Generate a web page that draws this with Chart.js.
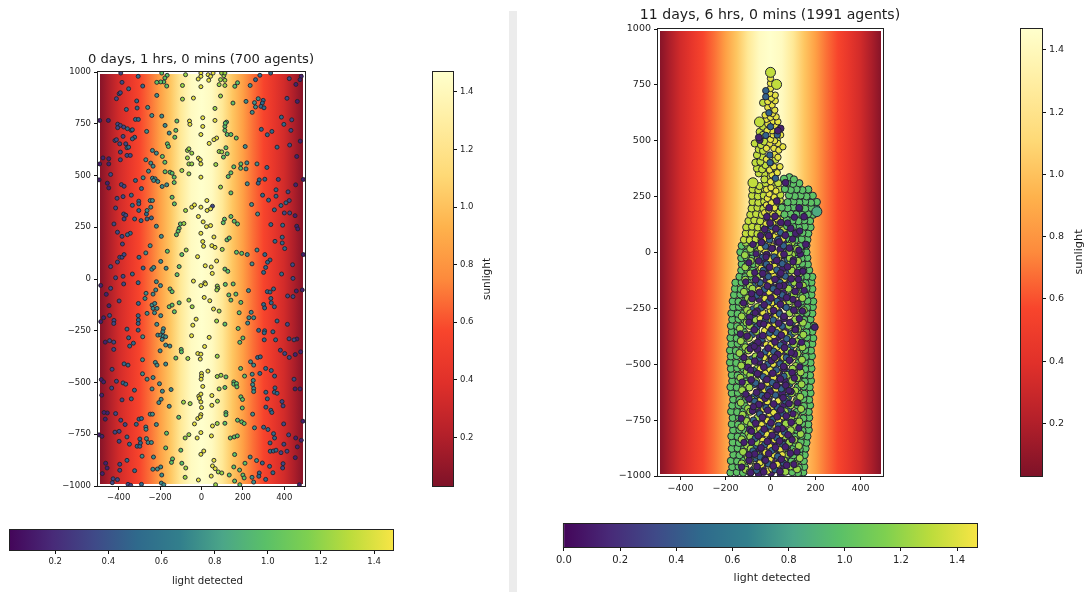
<!DOCTYPE html>
<html>
<head>
<meta charset="utf-8">
<style>
  html, body { margin: 0; padding: 0; background: #fff; overflow: hidden; }
  #page { position: relative; width: 1089px; height: 592px; }
  canvas { position: absolute; }
  #divider { position: absolute; left: 509px; top: 11px; width: 8px; height: 581px; background: #ececec; }
</style>
<script src="https://cdn.jsdelivr.net/npm/chart.js@4/dist/chart.umd.js"></script>
</head>
<body>
<div id="page">
  <div id="divider"></div>
  <canvas id="leftMain" width="290" height="470" style="left:40px;top:40px"></canvas>
  <canvas id="leftSun" width="70" height="440" style="left:425px;top:60px"></canvas>
  <canvas id="leftLightBar" width="400" height="72" style="left:0;top:520px"></canvas>
  <canvas id="rightMain" width="310" height="500" style="left:600px;top:0"></canvas>
  <canvas id="rightSun" width="79" height="475" style="left:1010px;top:15px"></canvas>
  <canvas id="rightLightBar" width="432" height="77" style="left:553px;top:515px"></canvas>
</div>
<script>
// tick labels
const xTicks = [-400, -200, 0, 200, 400];
const yTicks = [-1000, -750, -500, -250, 0, 250, 500, 750, 1000];
const sunTicks = [0.2, 0.4, 0.6, 0.8, 1.0, 1.2, 1.4];
const lightTicksLeft = [0.2, 0.4, 0.6, 0.8, 1.0, 1.2, 1.4];
const lightTicksRight = [0.0, 0.2, 0.4, 0.6, 0.8, 1.0, 1.2, 1.4];

// sunlight across the dish
const sunX = [-500, -450, -400, -350, -300, -250, -200, -150, -100, -50, 0, 50, 100, 150, 200, 250, 300, 350, 400, 450, 500];
const sunVal = [0.03, 0.18, 0.33, 0.44, 0.56, 0.68, 0.85, 1.02, 1.25, 1.42, 1.47, 1.42, 1.25, 1.02, 0.85, 0.68, 0.56, 0.44, 0.33, 0.18, 0.03];

// colormaps
const sunStops = ["#7e1228", "#b4202a", "#e0302a", "#f8452c", "#fd8a3c", "#feb24c", "#fed976", "#ffeda0", "#ffffcc"];
const lightStops = ["#44065a", "#482a78", "#3f4a88", "#2f6a8c", "#327f8c", "#4ba688", "#5ac068", "#7ed050", "#bcdc3c", "#f7e545"];

// light detected per band of agents
const bandLight = { purple: 0.12, navy: 0.32, steel: 0.45, blue: 0.5, teal: 0.72, green: 1.0, lime: 1.22, pale: 1.32, yellow: 1.42 };

// left panel, agents at 1 hr
const leftPurple = [[-492,766],[-450,766],[-476,585],[-448,581],[-492,556],[-448,556],[-495,479],[-455,463],[-448,440],[463,858],[477,666],[460,592],[455,455],[492,481],[452,306],[460,255],[465,242],[492,118],[482,979],[476,963],[456,940],[-487,-31],[-460,-74],[-447,-129],[-473,-187],[-487,-206],[-465,-305],[-484,-486],[-473,-497],[-482,-561],[-455,-647],[-471,-645],[-465,-677],[-495,-753],[-481,-760],[-463,-890],[-456,-913],[-479,-940],[458,-58],[487,-53],[461,-290],[453,-365],[479,-352],[452,-531],[476,-531],[490,-687],[455,-768],[482,-779],[463,-811],[453,-863],[473,-994]];
const leftNavy = [[-390,995],[-384,950],[-411,871],[-398,895],[-392,900],[-405,748],[-392,742],[-405,731],[-376,734],[-379,689],[-418,669],[-411,673],[-395,653],[-366,653],[-392,613],[-360,597],[-344,597],[-392,576],[-439,505],[-387,456],[-374,448],[-408,390],[-379,398],[-415,343],[-376,314],[-366,308],[-374,290],[-423,266],[-406,226],[-384,206],[-382,169],[-395,105],[-384,105],[-374,118],[-406,82],[-439,60],[-415,6],[-379,13],[413,873],[436,769],[432,718],[426,647],[371,481],[418,421],[424,379],[400,319],[426,319],[440,69],[442,3],[424,968],[53,352],[-439,-45],[-398,-106],[-376,-24],[-444,-176],[-423,-200],[-424,-215],[-444,-298],[-424,-305],[-424,-340],[-432,-436],[-411,-494],[-434,-527],[-384,-584],[-415,-650],[-390,-682],[-369,-703],[-418,-740],[-398,-736],[-398,-784],[-395,-895],[-395,-924],[-427,-965],[-406,-969],[-431,-984],[-355,-992],[-342,-997],[416,-82],[442,-85],[415,-219],[423,-289],[447,-294],[381,-344],[402,-360],[424,-379],[447,-484],[389,-592],[394,-613],[397,-700],[421,-753],[398,-798],[384,-839],[413,-832],[394,-892],[392,-913]];
const leftBlue = [[-306,979],[-284,932],[-352,919],[-313,860],[-363,819],[-311,826],[-319,771],[-305,771],[-358,726],[-339,718],[-334,721],[-323,685],[-334,677],[-360,634],[-352,637],[-319,476],[-290,437],[-339,405],[-303,376],[-303,363],[-334,356],[-303,331],[-323,290],[-292,282],[-344,221],[-358,214],[-302,105],[-334,24],[-282,53],[-266,314],[-263,290],[-242,295],[279,479],[274,463],[306,482],[316,539],[295,405],[324,381],[360,400],[360,431],[352,334],[384,355],[408,368],[335,263],[392,260],[355,182],[390,202],[390,174],[402,147],[306,118],[331,92],[319,81],[310,56],[300,32],[387,24],[289,723],[318,697],[340,713],[365,637],[398,747],[282,984],[261,963],[386,782],[334,995],[298,863],[294,850],[287,834],[302,827],[-306,-18],[-305,-118],[-306,-177],[-305,-198],[-306,-215],[-360,-242],[-306,-247],[-352,-284],[-329,-310],[-347,-324],[-374,-410],[-355,-416],[-379,-502],[-366,-508],[-324,-537],[-339,-579],[-360,-763],[-348,-798],[-315,-702],[-302,-677],[-290,-674],[-360,-876],[-323,-926],[-298,-773],[-311,-808],[-298,-808],[-295,-792],[-290,-992],[318,-61],[331,-63],[348,-48],[335,-94],[337,-115],[300,-123],[352,-134],[305,-140],[365,-203],[276,-248],[305,-250],[303,-260],[345,-255],[303,-294],[358,-294],[271,-379],[284,-376],[310,-432],[282,-456],[337,-442],[353,-469],[311,-547],[355,-526],[352,-547],[318,-579],[365,-552],[311,-619],[335,-634],[340,-645],[300,-716],[321,-727],[348,-747],[353,-768],[331,-792],[332,-832],[347,-831],[360,-827],[294,-889],[329,-905],[279,-937],[277,-953],[345,-936],[310,-968]];
const leftTeal = [[-260,829],[-240,790],[-265,713],[-282,489],[-237,487],[-224,484],[-231,476],[-211,471],[-190,447],[-168,455],[-269,576],[-237,621],[-218,608],[-245,560],[-234,545],[-256,521],[-248,379],[-237,379],[-263,331],[-218,255],[-194,206],[-248,161],[-269,126],[-197,85],[-240,47],[-231,56],[-171,52],[-192,787],[-216,887],[-176,742],[-156,705],[-245,347],[215,858],[256,852],[261,831],[274,871],[245,805],[211,640],[215,532],[219,561],[268,556],[221,460],[242,360],[271,314],[268,140],[221,118],[244,73],[235,935],[-284,-279],[-285,-390],[-285,-458],[-263,-484],[-239,-531],[-234,-476],[-263,-166],[-239,-126],[-226,-118],[-234,-142],[-215,-142],[-227,-163],[-197,-177],[-216,-219],[-184,-240],[-187,-255],[-211,-271],[-197,-271],[-185,-276],[-173,-279],[-190,-292],[-200,-347],[-173,-319],[-153,-324],[-223,-403],[-215,-416],[-173,-411],[-203,-506],[-189,-542],[-147,-534],[-195,-581],[-206,-597],[-156,-615],[-248,-653],[-237,-653],[-269,-715],[-268,-726],[-218,-703],[-266,-771],[-258,-790],[-242,-790],[-287,-856],[-232,-860],[-235,-919],[-213,-918],[-197,-908],[-192,-947],[-194,-986],[-182,-994],[-218,-13],[-198,-32],[-221,-53],[-234,-73],[-273,-94],[-268,-69],[227,-56],[240,-161],[229,-187],[252,-187],[223,-213],[237,-400],[252,-416],[245,-460],[250,-490],[247,-510],[252,-529],[252,-544],[247,-653],[256,-719],[235,-860],[266,-877],[244,-958],[252,-981]];
const leftGreen = [[-165,134],[-177,564],[-189,592],[-165,653],[-160,640],[-124,718],[-129,685],[-119,763],[-152,516],[-176,518],[-142,511],[-132,492],[-132,466],[-142,395],[-131,363],[-102,266],[-108,245],[-113,231],[-121,214],[-95,118],[-108,60],[-118,21],[-166,984],[-177,971],[-182,952],[-197,952],[-216,950],[-192,995],[-168,932],[152,850],[113,737],[113,718],[124,698],[142,698],[168,681],[118,634],[124,605],[106,589],[156,542],[190,556],[189,535],[142,513],[129,495],[142,416],[142,302],[158,279],[174,266],[111,289],[105,272],[123,189],[134,198],[169,129],[194,124],[113,48],[127,37],[174,948],[161,931],[121,758],[115,753],[-152,-48],[-142,-61],[-156,-134],[-142,-126],[-131,-158],[-108,-115],[-124,-382],[-98,-340],[-97,-352],[-110,-668],[-169,-745],[-173,-816],[-100,-827],[-140,-869],[-145,-886],[-95,-890],[115,-26],[153,-24],[132,-77],[166,-73],[142,-102],[190,-113],[182,-163],[113,-218],[177,-239],[200,-285],[185,-306],[118,-473],[156,-497],[156,-508],[169,-505],[171,-521],[189,-432],[208,-469],[113,-524],[190,-569],[198,-582],[197,-623],[118,-645],[118,-656],[174,-682],[194,-690],[206,-698],[113,-697],[139,-768],[158,-763],[173,-758],[160,-848],[210,-890],[156,-908],[184,-923],[200,-947],[206,-961],[134,-947],[160,-976],[185,-994]];
const leftLime = [[-85,268],[-74,140],[-95,524],[-61,508],[-68,621],[-61,629],[-68,585],[-47,608],[-61,556],[-47,556],[-77,987],[-92,935],[-92,869],[-77,331],[65,824],[92,884],[113,935],[85,939],[92,963],[113,960],[108,982],[97,995],[113,995],[85,616],[98,614],[69,553],[92,444],[100,143],[-61,-102],[-45,-134],[-66,-384],[-61,-752],[-79,-768],[-87,-595],[-55,-602],[-76,-913],[-79,-958],[76,-34],[79,-45],[74,-53],[76,-373],[85,-155],[73,-203],[76,-471],[94,-465],[85,-531],[77,-590],[76,-698],[68,-994],[81,-932],[98,-937]];
const leftYellow = [[-3,995],[-3,979],[-16,966],[32,987],[44,979],[35,960],[56,995],[-3,929],[-39,874],[6,779],[65,766],[-58,763],[-56,747],[6,737],[-3,698],[73,681],[60,673],[37,655],[-15,584],[-6,576],[-3,556],[-3,492],[26,379],[-3,347],[27,331],[44,339],[-47,347],[-34,358],[-15,302],[8,276],[44,258],[24,253],[-3,221],[60,203],[6,181],[10,158],[50,161],[65,153],[-19,108],[73,87],[18,64],[47,58],[52,27],[-39,-10],[-3,-32],[16,-18],[19,-24],[13,-89],[40,-105],[58,-145],[-26,-194],[-42,-223],[-48,-274],[37,-282],[15,-326],[-18,-360],[-3,-363],[-6,-387],[31,-445],[0,-456],[0,-469],[-2,-484],[6,-519],[-13,-566],[-3,-556],[-10,-577],[-3,-594],[0,-621],[50,-563],[50,-610],[-3,-655],[-18,-674],[-6,-666],[-34,-700],[53,-710],[-3,-742],[48,-758],[-21,-768],[-3,-847],[11,-831],[60,-876],[53,-903],[66,-916],[47,-952],[-15,-971]];

// right panel, agents at 11 days
const rightBaseNavy = [[-52,-990],[2,-986],[46,-992],[-36,-962],[24,-958],[60,-964],[-48,-936],[6,-932],[40,-938],[-28,-908],[18,-904],[58,-910],[-50,-880],[-4,-876],[44,-882],[-32,-852],[14,-848],[56,-854],[-46,-824],[0,-820],[36,-826],[-24,-796],[26,-792],[62,-798],[-54,-768],[-6,-764],[40,-770],[-30,-740],[12,-736],[54,-742],[-48,-712],[2,-708],[32,-714],[-22,-684],[24,-680],[60,-686],[-56,-656],[-8,-652],[38,-658],[-34,-628],[16,-624],[52,-630],[-46,-600],[0,-596],[34,-602],[-20,-572],[28,-568],[64,-574],[-54,-544],[-6,-540],[40,-546],[-36,-516],[12,-512],[60,-518],[-50,-488],[-2,-484],[36,-490],[-22,-460],[24,-456],[66,-462],[-58,-432],[-8,-428],[44,-434],[-36,-404],[14,-400],[58,-406],[-48,-376],[2,-372],[34,-378],[-20,-348],[26,-344],[66,-350],[-54,-320],[-6,-316],[42,-322],[-32,-292],[14,-288],[60,-294],[-46,-264],[0,-260],[36,-266],[-24,-236],[24,-232],[64,-238],[-50,-208],[-8,-204],[44,-210],[-30,-180],[12,-176],[58,-182],[-44,-152],[2,-148],[34,-154],[-18,-124],[26,-120],[62,-126],[-40,-96],[-2,-92],[42,-98],[-24,-68],[16,-64],[56,-70],[-34,-40],[4,-36],[38,-42],[-16,-12],[26,-8],[60,-14],[-30,16],[8,20],[44,14],[-14,44],[30,48],[62,42],[-6,70],[40,74],[12,98],[58,96]];
const rightBaseBlue = [[-75,-972],[74,-976],[-70,-920],[76,-918],[-72,-866],[72,-868],[-76,-812],[78,-810],[-70,-756],[76,-758],[-74,-702],[80,-700],[-72,-646],[78,-648],[-76,-590],[84,-588],[-78,-534],[86,-536],[-84,-478],[88,-476],[-86,-422],[90,-424],[-82,-366],[94,-364],[-80,-310],[96,-312],[-76,-254],[94,-256],[-72,-198],[90,-196],[-66,-142],[92,-144],[-58,-86],[84,-84],[-54,-30],[78,-32],[-52,22],[74,24]];
const rightBaseLime = [[-12,105],[14,108],[38,102],[60,106],[-6,130],[20,134],[44,128],[-14,156],[12,160],[36,154],[58,158],[-10,182],[16,186],[40,180],[-2,208],[24,212],[48,206],[-8,234],[18,238],[42,232],[-4,260],[22,264],[44,258],[-6,286],[20,290],[40,284],[-12,312],[12,316],[34,310],[-10,340],[14,344],[-28,350],[26,372],[-42,392],[-52,415],[22,415],[-48,450],[-40,510],[28,505]];
const rightGreen = [[-178,-985],[-150,-983],[-122,-986],[146,-984],[122,-987],[96,-983],[-170,-960],[-142,-958],[-112,-961],[150,-959],[126,-962],[100,-958],[-176,-932],[-148,-934],[-120,-931],[148,-933],[120,-930],[94,-934],[-165,-905],[-138,-907],[-108,-904],[152,-906],[128,-903],[102,-907],[-172,-878],[-146,-876],[-118,-879],[156,-877],[130,-880],[104,-876],[-168,-850],[-140,-852],[-110,-849],[160,-851],[134,-848],[108,-852],[-174,-822],[-146,-824],[-120,-821],[164,-823],[138,-820],[112,-824],[-166,-795],[-138,-793],[-112,-796],[170,-794],[142,-797],[116,-793],[-172,-768],[-144,-770],[-116,-767],[168,-769],[140,-766],[114,-770],[-168,-740],[-140,-738],[-110,-741],[172,-739],[146,-742],[118,-738],[-175,-712],[-148,-714],[-120,-711],[170,-713],[144,-710],[116,-714],[-170,-685],[-142,-683],[-114,-686],[176,-684],[148,-687],[120,-683],[-166,-658],[-138,-660],[-110,-657],[172,-659],[146,-656],[118,-660],[-172,-630],[-145,-628],[-116,-631],[178,-629],[150,-632],[122,-628],[-178,-602],[-150,-604],[-122,-601],[174,-603],[148,-600],[120,-604],[-170,-575],[-142,-573],[-114,-576],[180,-574],[152,-577],[124,-573],[-172,-548],[-146,-550],[-118,-547],[176,-549],[150,-546],[124,-550],[-176,-520],[-148,-518],[-120,-521],[182,-519],[154,-522],[126,-518],[-180,-492],[-152,-494],[-124,-491],[178,-493],[152,-490],[124,-494],[-176,-465],[-150,-463],[-122,-466],[184,-464],[156,-467],[128,-463],[-180,-438],[-154,-440],[-126,-437],[180,-439],[154,-436],[128,-440],[-174,-410],[-146,-408],[-118,-411],[186,-409],[158,-412],[130,-408],[-178,-382],[-150,-384],[-124,-381],[190,-383],[162,-380],[134,-384],[-172,-355],[-146,-353],[-118,-356],[186,-354],[160,-357],[132,-353],[-176,-328],[-148,-330],[-120,-327],[192,-329],[164,-326],[136,-330],[-170,-300],[-142,-298],[-116,-301],[178,-299],[150,-302],[122,-298],[-174,-272],[-146,-274],[-118,-271],[186,-273],[160,-270],[134,-274],[-166,-245],[-140,-243],[-112,-246],[188,-244],[162,-247],[136,-243],[-168,-218],[-142,-220],[-114,-217],[190,-219],[164,-216],[136,-220],[-162,-190],[-134,-188],[-108,-191],[182,-189],[156,-192],[130,-188],[-158,-162],[-132,-164],[-104,-161],[186,-163],[160,-160],[132,-164],[-156,-135],[-128,-133],[-100,-136],[182,-134],[156,-137],[130,-133],[-138,-108],[-112,-110],[-86,-107],[186,-109],[160,-106],[134,-110],[-130,-80],[-104,-78],[-78,-81],[172,-79],[146,-82],[120,-78],[-128,-52],[-102,-54],[-76,-51],[166,-53],[140,-50],[114,-54],[-130,-25],[-106,-23],[-80,-26],[164,-24],[138,-27],[112,-23],[-134,2],[-108,0],[-82,3],[160,1],[134,4],[108,0],[-128,30],[-102,32],[-76,29],[160,31],[134,28],[106,32],[164,57],[138,60],[110,56],[84,59],[168,85],[142,88],[116,84],[90,87],[178,113],[152,116],[126,112],[100,115],[74,118],[176,141],[150,144],[124,140],[98,143],[72,146],[190,169],[166,172],[140,168],[114,171],[88,174],[62,170],[204,197],[180,200],[154,196],[128,199],[102,202],[76,198],[50,201],[206,226],[180,223],[154,227],[128,224],[102,228],[76,225],[188,254],[160,251],[134,255],[108,252],[82,256],[168,282],[142,279],[116,283],[90,280],[64,284],[128,310],[100,307],[74,311],[84,337],[104,327],[60,330]];
const rightNavy = [[-88,-985],[-30,-982],[42,-980],[-60,-958],[12,-955],[72,-952],[-95,-930],[-25,-928],[48,-925],[-70,-902],[-8,-900],[88,-898],[-42,-874],[22,-872],[66,-870],[-84,-848],[-14,-846],[40,-844],[-55,-820],[8,-818],[78,-816],[-92,-792],[-28,-790],[52,-788],[-66,-764],[2,-762],[92,-760],[-36,-738],[30,-735],[70,-732],[-80,-708],[-12,-706],[46,-704],[-52,-680],[14,-678],[82,-676],[-96,-654],[-24,-652],[56,-650],[-62,-626],[-2,-624],[90,-622],[-40,-598],[26,-596],[68,-594],[-86,-570],[-16,-568],[44,-566],[-58,-542],[10,-540],[96,-538],[-100,-514],[-30,-512],[58,-510],[-70,-486],[4,-484],[84,-482],[-44,-458],[32,-456],[106,-454],[-90,-430],[-10,-428],[62,-426],[-56,-402],[20,-400],[98,-398],[-104,-374],[-34,-372],[48,-370],[-72,-346],[6,-344],[112,-342],[-46,-318],[36,-316],[86,-314],[197,-334],[-92,-290],[-18,-288],[60,-286],[-60,-262],[14,-260],[104,-258],[-28,-234],[44,-232],[122,-230],[-82,-206],[2,-204],[72,-202],[-48,-178],[30,-176],[110,-174],[-14,-150],[58,-148],[128,-146],[-66,-122],[20,-120],[92,-118],[-34,-94],[46,-92],[120,-90],[-4,-66],[76,-64],[-52,-38],[28,-36],[102,-34],[-18,-10],[60,-8],[132,-6],[6,18],[84,20],[157,36],[-40,45],[38,47],[112,86],[-8,75],[66,77],[-26,104],[24,106],[90,108],[-2,132],[46,134],[149,160],[-16,160],[20,162],[127,200],[-6,200],[28,230],[67,312],[45,555],[33,545],[-48,503],[-52,515]];
const rightLimeOuter = [[-110,-972],[118,-970],[-128,-944],[108,-946],[-100,-918],[130,-920],[-122,-892],[112,-890],[-104,-864],[126,-866],[-128,-836],[106,-838],[-98,-810],[134,-812],[-130,-782],[110,-780],[-106,-754],[128,-756],[-124,-726],[108,-728],[-100,-698],[136,-700],[-132,-672],[114,-670],[-104,-644],[132,-646],[-126,-616],[110,-618],[-108,-588],[138,-590],[-134,-560],[118,-562],[-106,-534],[134,-536],[-130,-506],[112,-508],[-110,-478],[140,-480],[-138,-450],[120,-452],[-112,-424],[142,-424],[-132,-396],[116,-398],[-108,-368],[146,-368],[-136,-340],[122,-342],[-106,-314],[144,-314],[-128,-286],[118,-288],[-104,-258],[148,-258],[-124,-232],[120,-232],[-100,-204],[142,-204],[-118,-176],[116,-176],[-92,-150],[144,-148],[-112,-122],[110,-122],[-90,-94],[128,-94],[-112,-66],[100,-66],[-88,-38],[122,-38],[-114,-12],[96,-10],[-90,16],[118,16],[-110,44],[94,44]];
const rightLime = [[-92,-983],[-66,-958],[66,-981],[88,-957],[-90,-932],[-62,-905],[60,-930],[78,-904],[-88,-878],[-60,-850],[62,-876],[84,-850],[-90,-824],[-64,-796],[66,-822],[90,-795],[-86,-768],[-58,-740],[68,-766],[92,-740],[-90,-712],[-62,-686],[64,-711],[90,-684],[-84,-658],[-56,-630],[68,-658],[94,-630],[-94,-604],[-64,-576],[72,-602],[96,-574],[-90,-548],[-60,-520],[74,-548],[98,-520],[-96,-492],[-66,-465],[72,-492],[100,-465],[-98,-438],[-68,-410],[76,-438],[104,-410],[-96,-382],[-64,-354],[78,-382],[108,-354],[-92,-328],[-66,-300],[82,-328],[110,-300],[-90,-272],[-58,-244],[84,-272],[110,-244],[-86,-218],[-56,-190],[84,-218],[104,-190],[-80,-162],[-52,-134],[80,-162],[106,-134],[-60,-108],[-48,-80],[82,-108],[94,-80],[-52,-52],[-56,-25],[88,-52],[86,-25],[-58,2],[-50,30],[82,2],[80,30]];
const rightTowerLime = [[-118,57],[-92,55],[-66,59],[-40,56],[-110,85],[-84,87],[-58,84],[-32,88],[-108,113],[-82,116],[-56,112],[-30,115],[-98,141],[-72,144],[-46,140],[-90,169],[-64,172],[-38,168],[-84,197],[-58,200],[-32,196],[-80,226],[-54,223],[-28,228],[-82,254],[-56,251],[-30,255],[-80,282],[-54,279],[-26,284],[-49,297],[-78,312],[-22,310],[-52,354],[-27,327],[-60,376],[-37,372],[-22,391],[-67,402],[-45,406],[-37,429],[-60,436],[-52,461],[-33,455],[-70,488],[-42,481],[-27,496],[-48,540],[-33,526],[-49,584],[-33,563],[-33,670]];
const rightBlue = [[-62,-975],[20,-972],[-10,-945],[58,-942],[-46,-915],[32,-912],[-78,-888],[6,-886],[-26,-860],[54,-858],[-68,-832],[28,-830],[-40,-806],[62,-804],[-6,-776],[36,-774],[-76,-750],[10,-748],[-48,-722],[54,-720],[-20,-694],[30,-692],[-70,-666],[66,-664],[-38,-640],[22,-638],[-8,-612],[48,-610],[-66,-584],[8,-582],[-32,-556],[60,-554],[-76,-528],[26,-526],[-12,-500],[42,-498],[-50,-472],[70,-470],[-24,-444],[14,-442],[-78,-416],[44,-414],[-38,-388],[72,-386],[-4,-360],[26,-358],[-60,-332],[52,-330],[-24,-304],[12,-302],[-76,-276],[40,-274],[-42,-248],[70,-246],[-8,-220],[30,-218],[-62,-192],[52,-190],[-26,-164],[12,-162],[-46,-136],[42,-134],[-10,-108],[66,-106],[-32,-80],[28,-78],[-18,-52],[52,-50],[-36,-22],[16,-20],[-22,28],[58,30],[-4,56],[34,58],[-14,88],[44,90],[4,116],[-2,402],[22,332],[-3,436],[-21,524],[30,526],[0,563],[-7,625],[-21,724],[-21,697]];
const rightNavyTop = [[-128,-960],[104,-948],[-96,-905],[118,-892],[-118,-850],[96,-838],[-84,-800],[126,-786],[-130,-742],[100,-722],[-76,-690],[120,-672],[-110,-634],[82,-618],[-126,-580],[106,-562],[-88,-526],[130,-512],[-118,-470],[92,-448],[-72,-420],[138,-402],[-134,-364],[110,-346],[-96,-312],[128,-296],[-68,-270],[142,-262],[-120,-226],[100,-210],[-84,-184],[150,-170],[-110,-132],[124,-120],[-70,-90],[144,-84],[-96,-46],[100,-42],[-64,-6],[126,10],[-78,36],[98,60],[130,96],[76,132],[106,158],[-44,76],[-20,-20],[40,-150],[-30,-320],[18,-470],[-14,-640],[32,-790],[-22,-930]];
const rightYellow = [[-12,-978],[6,-968],[-40,-950],[30,-948],[-2,-925],[14,-905],[-22,-895],[44,-880],[-4,-868],[-34,-840],[18,-838],[2,-806],[-18,-812],[24,-780],[-40,-770],[-14,-752],[36,-752],[-4,-722],[14,-716],[-30,-700],[4,-690],[34,-664],[-14,-668],[-6,-640],[10,-632],[-26,-614],[24,-612],[-4,-596],[0,-574],[-12,-585],[14,-560],[-22,-540],[32,-534],[-2,-524],[-10,-490],[12,-500],[24,-476],[-28,-470],[-4,-450],[8,-468],[44,-440],[-18,-412],[2,-412],[28,-424],[-4,-380],[14,-372],[-26,-350],[34,-345],[-10,-330],[20,-320],[-2,-298],[24,-285],[-34,-268],[0,-260],[-10,-240],[26,-246],[6,-225],[-24,-206],[18,-198],[-6,-178],[8,-160],[-30,-148],[34,-160],[-2,-130],[14,-104],[-22,-100],[6,-82],[-8,-50],[18,-62],[36,-24],[-4,-28],[-24,6],[18,0],[4,30],[-8,48],[22,74],[-20,62],[-2,95],[32,92],[10,130],[-20,128],[30,150],[-4,150],[10,172],[-26,178],[-8,190],[18,200],[-18,212],[4,222],[-14,242],[16,248],[-6,262],[24,275],[-18,282],[2,290],[0,317],[7,347],[-4,369],[15,384],[30,357],[42,384],[0,402],[18,439],[33,426],[-18,417],[-3,485],[15,466],[-18,466],[37,458],[55,473],[33,488],[18,500],[0,506],[12,526],[45,526],[7,545],[-15,545],[22,566],[7,585],[33,585],[-12,575],[-18,596],[0,605],[25,607],[9,622],[-24,615],[19,637],[-12,649],[7,660],[-12,675],[21,679],[4,690],[21,704],[-3,712],[0,734],[0,757],[0,779],[-46,-940],[52,-905],[-38,-860],[48,-815],[-48,-790],[56,-735],[-44,-660],[60,-600],[-46,-520],[58,-470],[-52,-400],[62,-360],[-46,-296],[56,-230],[-52,-166],[60,-120],[-42,-70],[46,-10],[-44,20],[54,60]];
const rightBig = [[0,806],[27,752],[-49,584],[-78,312]];
const rightBigTeal = [[206,183]];

const minusLabel = v => String(v).replace("-", "\u2212");

// hex colormap lookup for a value in vmin..vmax
function mapColor(stops, v, vmin, vmax) {
  const t = Math.min(1, Math.max(0, (v - vmin) / (vmax - vmin))) * (stops.length - 1);
  const i = Math.min(stops.length - 2, Math.floor(t));
  const f = t - i;
  const c = k => parseInt(stops[k].slice(1), 16);
  const a = c(i), b = c(i + 1);
  const ch = s => Math.round(((a >> s) & 255) * (1 - f) + ((b >> s) & 255) * f);
  return `rgb(${ch(16)},${ch(8)},${ch(0)})`;
}

// sunlight background under the agents, keeps a white gap to the axes frame
const sunBackground = {
  id: "sunBackground",
  beforeDatasetsDraw(chart) {
    const { ctx, chartArea: a, scales: { x } } = chart;
    const x0 = x.getPixelForValue(-500), x1 = x.getPixelForValue(500);
    const grad = ctx.createLinearGradient(x0, 0, x1, 0);
    sunX.forEach((sx, i) => grad.addColorStop((sx + 500) / 1000, mapColor(sunStops, sunVal[i], 0.03, 1.47)));
    ctx.save();
    ctx.fillStyle = grad;
    ctx.fillRect(a.left + 2, a.top + 2, a.width - 4, a.height - 4);
    ctx.restore();
  }
};

const frame = {
  id: "frame",
  afterDraw(chart) {
    const { ctx, chartArea: a } = chart;
    ctx.save();
    ctx.strokeStyle = "#222";
    ctx.lineWidth = 1;
    ctx.strokeRect(a.left - 0.5, a.top - 0.5, a.width + 1, a.height + 1);
    ctx.restore();
  }
};

// titles and colorbar labels sit off centre in the original, so they get placed by hand
const placedLabel = {
  id: "placedLabel",
  afterDraw(chart, args, opts) {
    const { ctx } = chart;
    ctx.save();
    ctx.translate(opts.x, opts.y);
    if (opts.vertical) ctx.rotate(-Math.PI / 2);
    ctx.font = `${opts.size}px "DejaVu Sans"`;
    ctx.fillStyle = "#1c1c1c";
    ctx.textAlign = "center";
    ctx.textBaseline = "middle";
    ctx.fillText(opts.text, 0, 0);
    ctx.restore();
  }
};

function agents(points, light, radius, border) {
  return {
    data: points.map(p => ({ x: p[0], y: p[1] })),
    pointRadius: radius,
    pointBorderWidth: border,
    pointBorderColor: "#23232f",
    pointBackgroundColor: mapColor(lightStops, light, 0, 1.47)
  };
}

function axisOpts(values, fontSize, fit, format) {
  return {
    type: "linear",
    afterBuildTicks: axis => { axis.ticks = values.map(value => ({ value })); },
    afterFit: fit,
    border: { display: false },
    grid: { drawOnChartArea: false, tickLength: 4, tickColor: "#111" },
    ticks: { callback: format, font: { size: fontSize, family: "DejaVu Sans" }, color: "#222", padding: 3, autoSkip: false, maxRotation: 0 }
  };
}

function mainChart(id, layers, title, pad, tickSize) {
  const x = axisOpts(xTicks, tickSize, s => { s.height = 24; }, minusLabel);
  const y = axisOpts(yTicks, tickSize, s => { s.width = 58; }, minusLabel);
  x.min = -500; x.max = 500;
  y.min = -1000; y.max = 1000;
  return new Chart(document.getElementById(id), {
    type: "scatter",
    // chart.js paints the first dataset last, layers are listed bottom to top
    data: { datasets: layers.slice().reverse() },
    plugins: [sunBackground, frame, placedLabel],
    options: {
      responsive: false,
      animation: false,
      layout: { autoPadding: false, padding: pad },
      scales: { x, y },
      plugins: { legend: { display: false }, tooltip: { enabled: false }, placedLabel: title }
    }
  });
}

// colorbar as one floating bar, filled along the value scale
function colorBar(id, stops, barMin, barMax, ticks, horizontal, tickSize, pad, fit, label) {
  const axis = axisOpts(ticks, tickSize, fit, v => v.toFixed(1));
  axis.min = barMin;
  axis.max = barMax;
  axis.position = horizontal ? "bottom" : "right";
  const other = { type: "category", display: false, labels: ["bar"] };
  return new Chart(document.getElementById(id), {
    type: "bar",
    data: {
      labels: ["bar"],
      datasets: [{
        data: [[barMin, barMax]],
        barPercentage: 1,
        categoryPercentage: 1,
        backgroundColor(ctx) {
          const s = ctx.chart.scales[horizontal ? "x" : "y"];
          if (!s || !ctx.chart.chartArea) return "#888";
          const p0 = s.getPixelForValue(barMin), p1 = s.getPixelForValue(barMax);
          const g = horizontal ? ctx.chart.ctx.createLinearGradient(p0, 0, p1, 0) : ctx.chart.ctx.createLinearGradient(0, p0, 0, p1);
          stops.forEach((c, i) => g.addColorStop(i / (stops.length - 1), c));
          return g;
        }
      }]
    },
    plugins: [frame, placedLabel],
    options: {
      responsive: false,
      animation: false,
      indexAxis: horizontal ? "y" : "x",
      layout: { autoPadding: false, padding: pad },
      scales: horizontal ? { x: axis, y: other } : { y: axis, x: other },
      plugins: { legend: { display: false }, tooltip: { enabled: false }, placedLabel: label }
    }
  });
}

mainChart("leftMain", [
  agents(leftPurple, bandLight.purple, 2, 0.9),
  agents(leftNavy, bandLight.navy, 2, 0.9),
  agents(leftBlue, bandLight.blue, 2, 0.9),
  agents(leftTeal, bandLight.teal, 2, 0.9),
  agents(leftGreen, bandLight.green, 2, 0.9),
  agents(leftLime, bandLight.lime, 2, 0.9),
  agents(leftYellow, bandLight.yellow, 2, 0.9)
], { text: "0 days, 1 hrs, 0 mins (700 agents)", size: 13.15, x: 161, y: 20 }, { top: 32, right: 25 }, 8.5);

mainChart("rightMain", [
  agents(rightBaseNavy, bandLight.purple, 3.6, 1),
  agents(rightBaseBlue, bandLight.steel, 3.6, 1),
  agents(rightBaseLime, bandLight.pale, 3.6, 1),
  agents(rightGreen, bandLight.green, 3.6, 1),
  agents(rightLimeOuter, bandLight.lime, 3.6, 1),
  agents(rightLime, bandLight.lime, 3.6, 1),
  agents(rightTowerLime, bandLight.pale, 3.6, 1),
  agents(rightYellow, bandLight.yellow, 3.2, 1),
  agents(rightBlue, bandLight.steel, 3.2, 1),
  agents(rightNavy, bandLight.purple, 3.4, 1),
  agents(rightNavyTop, bandLight.purple, 3.2, 1),
  agents(rightBig, bandLight.pale, 5, 1),
  agents(rightBigTeal, bandLight.teal + 0.13, 5, 1)
], { text: "11 days, 6 hrs, 0 mins (1991 agents)", size: 14.1, x: 170, y: 15 }, { top: 29, right: 27 }, 9.5);

colorBar("leftSun", sunStops, 0.031, 1.469, sunTicks, false, 8.5,
  { left: 8, top: 12, bottom: 14 }, s => { s.width = 42; }, { text: "sunlight", size: 10.5, x: 62, y: 219, vertical: true });
colorBar("rightSun", sunStops, 0.031, 1.467, sunTicks, false, 9.5,
  { left: 11, top: 14, bottom: 14 }, s => { s.width = 47; }, { text: "sunlight", size: 11.3, x: 69, y: 237, vertical: true });
colorBar("leftLightBar", lightStops, 0.03, 1.471, lightTicksLeft, true, 8.5,
  { left: 10, right: 7, top: 10 }, s => { s.height = 42; }, { text: "light detected", size: 10.2, x: 207.5, y: 61 });
colorBar("rightLightBar", lightStops, 0, 1.471, lightTicksRight, true, 10,
  { left: 10, right: 8, top: 9 }, s => { s.height = 45; }, { text: "light detected", size: 11, x: 219, y: 63 });
</script>
</body>
</html>
